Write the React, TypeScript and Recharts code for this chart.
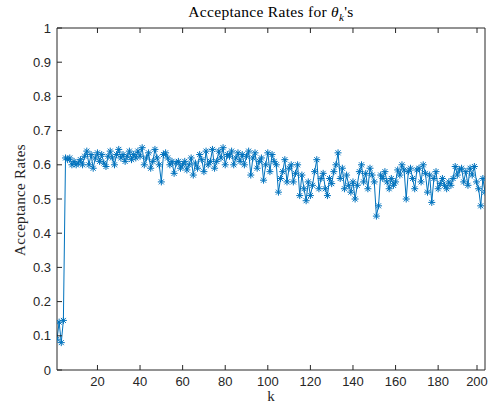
import { LineChart, Line, XAxis, YAxis } from 'recharts'

// acceptance rate per k (k = 1..202)
const rates = [
  0.09, 0.14, 0.08, 0.145, 0.62, 0.615, 0.62, 0.6, 0.61, 0.6,
  0.605, 0.615, 0.6, 0.625, 0.64, 0.6, 0.63, 0.59, 0.62, 0.635,
  0.61, 0.63, 0.605, 0.595, 0.625, 0.64, 0.62, 0.6, 0.63, 0.645,
  0.62, 0.63, 0.61, 0.625, 0.64, 0.615, 0.63, 0.62, 0.64, 0.625,
  0.65, 0.6, 0.62, 0.635, 0.59, 0.61, 0.645, 0.62, 0.6, 0.55,
  0.63, 0.635, 0.62, 0.6, 0.61, 0.575, 0.605, 0.61, 0.59, 0.6,
  0.61, 0.585, 0.6, 0.62, 0.57, 0.605, 0.59, 0.63, 0.615, 0.58,
  0.64, 0.6, 0.61, 0.645, 0.59, 0.61, 0.64, 0.62, 0.65, 0.6,
  0.63, 0.625, 0.64, 0.6, 0.62, 0.635, 0.61, 0.63, 0.6, 0.625,
  0.64, 0.57, 0.62, 0.635, 0.59, 0.61, 0.62, 0.555, 0.6, 0.635,
  0.58, 0.63, 0.61, 0.6, 0.52, 0.56, 0.58, 0.615, 0.55, 0.59,
  0.6, 0.55, 0.575, 0.6, 0.51, 0.57, 0.53, 0.495, 0.55, 0.51,
  0.54, 0.58, 0.615, 0.53, 0.56, 0.575, 0.53, 0.51, 0.56, 0.545,
  0.58, 0.6, 0.635, 0.56, 0.59, 0.53, 0.57, 0.54, 0.52, 0.55,
  0.5, 0.54, 0.58, 0.6, 0.55, 0.575, 0.53, 0.59, 0.57, 0.55,
  0.45, 0.48, 0.57, 0.56, 0.58, 0.55, 0.53, 0.56, 0.54, 0.55,
  0.585, 0.57, 0.6, 0.585, 0.5, 0.58, 0.59, 0.56, 0.53, 0.585,
  0.59, 0.55, 0.6, 0.575, 0.52, 0.57, 0.49, 0.56, 0.58, 0.53,
  0.545, 0.56, 0.54, 0.53, 0.55, 0.54, 0.56, 0.595, 0.57, 0.585,
  0.59, 0.55, 0.58, 0.54, 0.59, 0.57, 0.595, 0.55, 0.53, 0.48,
  0.56, 0.52,
]
const xTicks = [20, 40, 60, 80, 100, 120, 140, 160, 180, 200]
const yTicks = [0, 0.1, 0.2, 0.3, 0.4, 0.5, 0.6, 0.7, 0.8, 0.9, 1]
const yTickLabels = ['0', '0.1', '0.2', '0.3', '0.4', '0.5', '0.6', '0.7', '0.8', '0.9', '1']

const data = rates.map((r, i) => ({ k: i + 1, rate: r }))

const BLUE = '#0072BD'
const AXIS = '#262626'
const TICK_FONT = '"Liberation Sans", Arial, sans-serif'
const SERIF = '"Liberation Serif", "DejaVu Serif", serif'

// matlab '*' marker
const Star = ({ cx, cy }: any) => {
  if (cx == null || cy == null) return null
  const r = 3.5
  const d = 2.5
  return (
    <g stroke={BLUE} strokeWidth={1}>
      <line x1={cx - r} y1={cy} x2={cx + r} y2={cy} />
      <line x1={cx} y1={cy - r} x2={cx} y2={cy + r} />
      <line x1={cx - d} y1={cy - d} x2={cx + d} y2={cy + d} />
      <line x1={cx - d} y1={cy + d} x2={cx + d} y2={cy - d} />
    </g>
  )
}

const BottomTick = ({ x, y, payload }: any) => (
  <g>
    <line x1={x} y1={y} x2={x} y2={y - 5} stroke={AXIS} />
    <text x={x} y={y + 16} textAnchor="middle" fill={AXIS} fontSize={13} fontFamily={TICK_FONT}>
      {payload.value}
    </text>
  </g>
)

const TopTick = ({ x, y }: any) => <line x1={x} y1={y} x2={x} y2={y + 5} stroke={AXIS} />

const LeftTick = ({ x, y, payload, index }: any) => (
  <g>
    <line x1={x} y1={y} x2={x + 5} y2={y} stroke={AXIS} />
    <text x={x - 6} y={y + 4.5} textAnchor="end" fill={AXIS} fontSize={13} fontFamily={TICK_FONT}>
      {yTickLabels[index] ?? payload.value}
    </text>
  </g>
)

const RightTick = ({ x, y }: any) => <line x1={x} y1={y} x2={x - 5} y2={y} stroke={AXIS} />

export default function App() {
  return (
    <div style={{ position: 'absolute', left: 0, top: 0, width: 489, height: 405, background: '#fff' }}>
      <LineChart width={489} height={405} data={data} margin={{ top: 0, right: 0, bottom: 0, left: 0 }}>
        <XAxis
          dataKey="k"
          type="number"
          domain={[1, 202]}
          ticks={xTicks}
          height={35}
          tickSize={0}
          tickMargin={0}
          tick={<BottomTick />}
          axisLine={{ stroke: AXIS }}
          allowDataOverflow
        />
        <XAxis
          xAxisId="top"
          dataKey="k"
          type="number"
          orientation="top"
          domain={[1, 202]}
          ticks={xTicks}
          height={28}
          tickSize={0}
          tickMargin={0}
          tick={<TopTick />}
          axisLine={{ stroke: AXIS }}
        />
        <YAxis
          type="number"
          domain={[0, 1]}
          ticks={yTicks}
          width={57}
          tickSize={0}
          tickMargin={0}
          tick={<LeftTick />}
          axisLine={{ stroke: AXIS }}
          interval={0}
        />
        <YAxis
          yAxisId="right"
          orientation="right"
          type="number"
          domain={[0, 1]}
          ticks={yTicks}
          width={4}
          tickSize={0}
          tickMargin={0}
          tick={<RightTick />}
          axisLine={{ stroke: AXIS }}
          interval={0}
        />
        <Line
          dataKey="rate"
          stroke={BLUE}
          strokeWidth={1}
          dot={<Star />}
          activeDot={false}
          isAnimationActive={false}
        />
      </LineChart>
      <div
        style={{
          position: 'absolute',
          left: 57,
          width: 428,
          top: 3,
          textAlign: 'center',
          fontFamily: SERIF,
          fontSize: 15.5,
          color: '#000',
          letterSpacing: 0.3,
        }}
      >
        Acceptance Rates for <i>θ</i>
        <sub style={{ fontSize: 11 }}>
          <i>k</i>
        </sub>
        's
      </div>
      <div
        style={{
          position: 'absolute',
          left: 57,
          width: 428,
          top: 388,
          textAlign: 'center',
          fontFamily: SERIF,
          fontSize: 15,
          color: AXIS,
        }}
      >
        k
      </div>
      <div
        style={{
          position: 'absolute',
          left: 20,
          top: 200,
          transform: 'translate(-50%, -50%) rotate(-90deg)',
          whiteSpace: 'nowrap',
          fontFamily: SERIF,
          fontSize: 15,
          color: AXIS,
          letterSpacing: 0.3,
        }}
      >
        Acceptance Rates
      </div>
    </div>
  )
}
